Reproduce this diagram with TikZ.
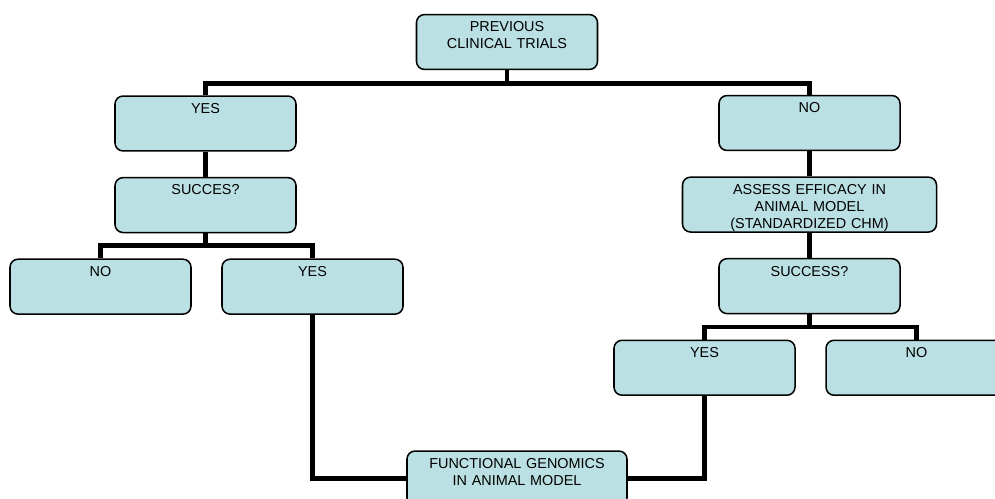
\documentclass[tikz,border=0pt]{standalone}
\usepackage{fontspec}
\setmainfont{Liberation Sans}
\usetikzlibrary{positioning}
\definecolor{boxfill}{RGB}{187,224,227}
\tikzset{
    chart/.style={font=\fontsize{12.3}{14.6}\selectfont},
    chart box/.style={rounded corners=0.24cm, draw, line width=1.3pt, fill=boxfill,
        align=center, inner xsep=0.1cm, inner ysep=0.21cm,
        text width=#1, text height=8.8pt, text depth=26.1pt},
    chart box/.default=5.23cm,
    chart link/.style={line width=4.2pt},
}

\begin{document}
\begin{tikzpicture}[chart, node distance=0.755cm]

    \clip (0,0) rectangle (29.85,-14.94);

    % Boxes
    \node[chart box] (prev) at (15.21,-1.26) {PREVIOUS\\CLINICAL TRIALS};
    \node[chart box] (yes1) at (6.165,-3.705) {YES};
    \node[chart box, below=of yes1] (succ1) {SUCCES?};
    \node[chart box, below=of succ1, xshift=-3.15cm] (no1) {NO};
    \node[chart box, below=of succ1, xshift=3.21cm] (yes2) {YES};
    \node[chart box] (no2) at (24.285,-3.69) {NO};
    \node[chart box=7.42cm, below=of no2] (assess) {ASSESS EFFICACY IN\\ANIMAL MODEL\\(STANDARDIZED CHM)};
    \node[chart box, below=of assess] (succ2) {SUCCESS?};
    \node[chart box, below=of succ2, xshift=-3.15cm] (yes3) {YES};
    \node[chart box, below=of succ2, xshift=3.21cm] (no3) {NO};
    \node[chart box=6.4cm] (func) at (15.51,-14.355) {FUNCTIONAL GENOMICS\\IN ANIMAL MODEL};

    % Connectors
    \draw[chart link] (prev.south) -- ++(0,-0.4) -| (yes1.north);
    \draw[chart link] (prev.south) -- ++(0,-0.4) -| (no2.north);
    \draw[chart link] (yes1.south) -- (succ1.north);
    \draw[chart link] (succ1.south) -- ++(0,-0.38) -| (no1.north);
    \draw[chart link] (succ1.south) -- ++(0,-0.38) -| (yes2.north);
    \draw[chart link] (no2.south) -- (assess.north);
    \draw[chart link] (assess.south) -- (succ2.north);
    \draw[chart link] (succ2.south) -- ++(0,-0.38) -| (yes3.north);
    \draw[chart link] (succ2.south) -- ++(0,-0.38) -| (no3.north);
    \draw[chart link] (yes2.south) |- (func.west);
    \draw[chart link] (yes3.south) |- (func.east);

\end{tikzpicture}
\end{document}
